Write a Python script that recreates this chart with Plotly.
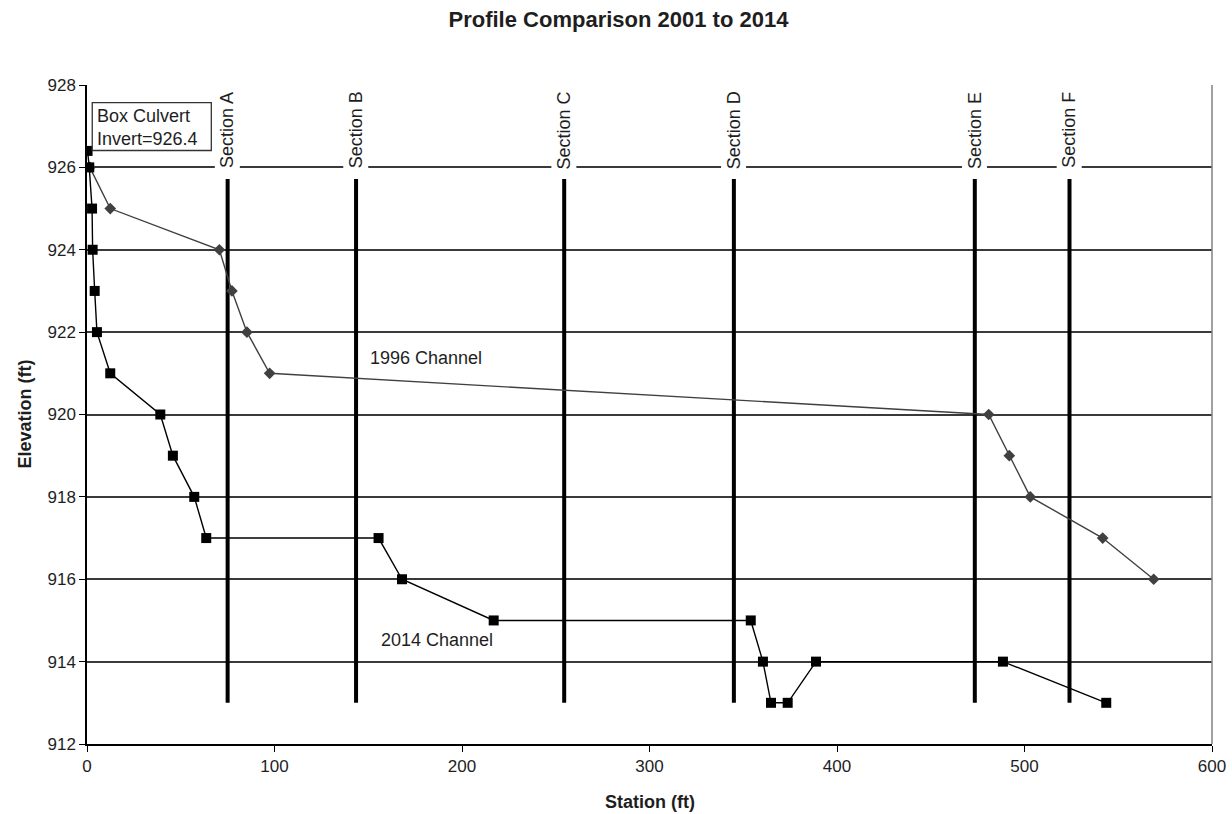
import plotly.graph_objects as go

# 2014 channel profile
st_2014 = [0.3, 1.2, 2.7, 3.0, 4.1, 5.3, 12.4, 39.1, 45.8, 57.2, 63.6, 155.5, 168.0, 216.9,
           354.0, 360.5, 364.8, 373.7, 388.8, 488.5, 543.6]
el_2014 = [926.4, 926, 925, 924, 923, 922, 921, 920, 919, 918, 917, 917, 916, 915,
           915, 914, 913, 913, 914, 914, 913]

# 1996 channel profile
st_1996 = [1.5, 12.4, 70.6, 77.3, 85.3, 97.4, 480.9, 491.9, 503.1, 541.7, 568.9]
el_1996 = [926, 925, 924, 923, 922, 921, 920, 919, 918, 917, 916]

# cross sections
sec_names = ["Section A", "Section B", "Section C", "Section D", "Section E", "Section F"]
sec_st = [75, 143.5, 254.5, 345, 473.5, 524]
sec_bottom = 913
sec_top = 925.72

x_ticks = [0, 100, 200, 300, 400, 500, 600]
y_ticks = [912, 914, 916, 918, 920, 922, 924, 926, 928]

FONT = "Arial, Liberation Sans, sans-serif"
TXT = "#1e1e1e"

fig = go.Figure()

for s in sec_st:
    fig.add_trace(go.Scatter(x=[s, s], y=[sec_bottom, sec_top], mode="lines",
                             line=dict(color="black", width=4), hoverinfo="skip",
                             showlegend=False))

fig.add_trace(go.Scatter(x=st_1996, y=el_1996, mode="lines+markers", name="1996 Channel",
                         line=dict(color="#404040", width=1.4),
                         marker=dict(symbol="diamond", size=9, color="#404040"),
                         showlegend=False))
fig.add_trace(go.Scatter(x=st_2014, y=el_2014, mode="lines+markers", name="2014 Channel",
                         line=dict(color="black", width=1.4),
                         marker=dict(symbol="square", size=10, color="black"),
                         showlegend=False))

for name, s in zip(sec_names, sec_st):
    fig.add_annotation(x=s, y=926.9, text=name, textangle=-90, showarrow=False,
                       font=dict(family=FONT, size=18, color=TXT),
                       bgcolor="white", borderpad=2, xanchor="center", yanchor="middle")

fig.add_annotation(x=180.7, y=921.38, text="1996 Channel", showarrow=False,
                   font=dict(family=FONT, size=18, color=TXT), xanchor="center", yanchor="middle")
fig.add_annotation(x=186.9, y=914.53, text="2014 Channel", showarrow=False,
                   font=dict(family=FONT, size=18, color=TXT), xanchor="center", yanchor="middle")

# Box culvert note
fig.add_shape(type="rect", x0=2.8, x1=66.3, y0=926.41, y1=927.57,
              line=dict(color="#333333", width=1.3), fillcolor="white", layer="above")
fig.add_annotation(x=4.5, y=926.97, text="Box Culvert<br>Invert=926.4", showarrow=False,
                   align="left", xanchor="left", yanchor="middle",
                   font=dict(family=FONT, size=18, color=TXT))

# axis titles
fig.add_annotation(xref="paper", yref="paper", x=-0.056, y=0.5, text="<b>Elevation (ft)</b>",
                   textangle=-90, showarrow=False, xanchor="center", yanchor="middle",
                   font=dict(family=FONT, size=18, color=TXT))
fig.add_annotation(xref="paper", yref="paper", x=0.5, y=-0.088, text="<b>Station (ft)</b>",
                   showarrow=False, xanchor="center", yanchor="middle",
                   font=dict(family=FONT, size=18, color=TXT))

# right border of plot area
fig.add_shape(type="line", xref="paper", yref="paper", x0=1, x1=1, y0=0, y1=1,
              line=dict(color="#808080", width=1.5))

fig.update_layout(
    width=1232, height=814,
    margin=dict(l=87, r=20, t=85, b=70),
    paper_bgcolor="white", plot_bgcolor="white",
    title=dict(text="<b>Profile Comparison 2001 to 2014</b>", x=0.502, xanchor="center",
               y=1 - 19 / 814, yanchor="middle", yref="container",
               font=dict(family=FONT, size=22, color=TXT)),
    font=dict(family=FONT, size=17, color=TXT),
    xaxis=dict(range=[0, 600], tickvals=x_ticks, ticktext=[str(v) for v in x_ticks],
               showgrid=False, zeroline=False, showline=True, linecolor="black", linewidth=1.5,
               ticks="outside", ticklen=6, tickcolor="black", tickfont=dict(size=17, color=TXT),
               automargin=False),
    yaxis=dict(range=[912, 928], tickvals=y_ticks, ticktext=[str(v) for v in y_ticks],
               showgrid=True, gridcolor="#3a3a3a", gridwidth=1.5, zeroline=False,
               showline=True, linecolor="black", linewidth=1.5,
               ticks="outside", ticklen=6, tickcolor="black", tickfont=dict(size=17, color=TXT),
               automargin=False),
)

fig.write_html("out.html", config={"displayModeBar": False},
               post_script="document.body.style.margin='0';")
